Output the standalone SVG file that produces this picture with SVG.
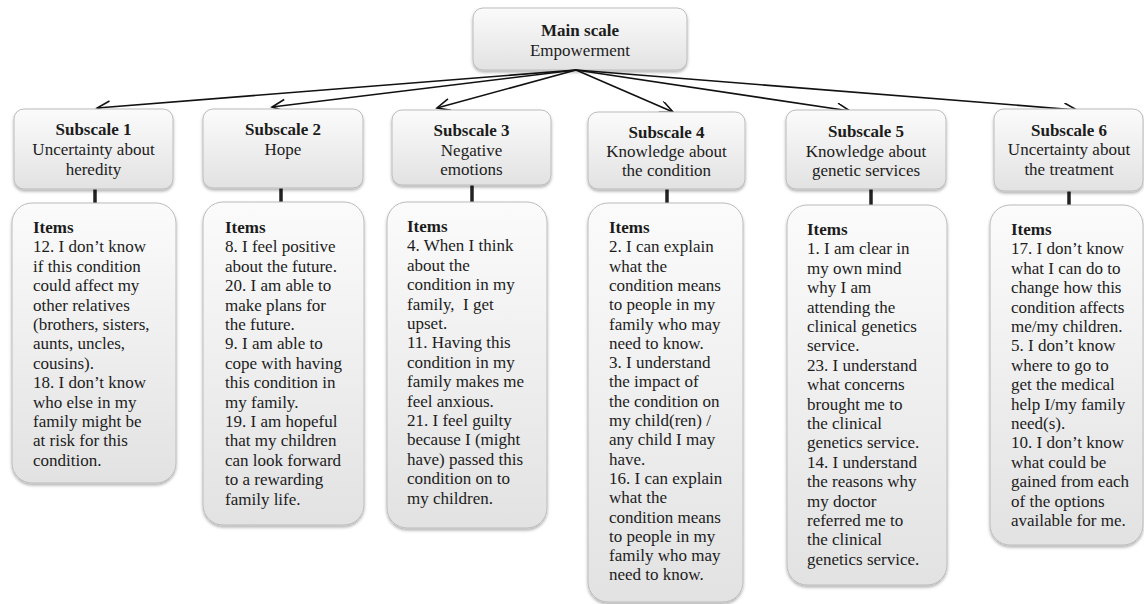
<svg xmlns="http://www.w3.org/2000/svg" width="1144" height="604" viewBox="0 0 1144 604">
<style>
text{font-family:"Liberation Serif","Times New Roman",serif;font-size:17px;fill:#1c1c1c}
.t{text-anchor:middle}
.b{font-weight:bold}
.box{fill:url(#g);stroke:#bcbcbc;stroke-width:1;filter:url(#sh)}
.stub{stroke:#222;stroke-width:3.5}
.arr{stroke:#111;stroke-width:1.6;fill:none;marker-end:url(#ah)}
</style>
<defs>
<linearGradient id="g" x1="0" y1="0" x2="0" y2="1">
<stop offset="0" stop-color="#fbfbfb"/>
<stop offset="1" stop-color="#e2e2e2"/>
</linearGradient>
<filter id="sh" x="-10%" y="-10%" width="120%" height="120%">
<feDropShadow dx="0" dy="2" stdDeviation="1.5" flood-color="#000" flood-opacity="0.3"/>
</filter>
<marker id="ah" markerUnits="userSpaceOnUse" markerWidth="16" markerHeight="16" refX="14" refY="6" orient="auto">
<path d="M1,0 L14,6 L1,12" fill="none" stroke="#111" stroke-width="1.6"/>
</marker>
</defs>

<g id="main">
<rect class="box" x="473" y="8" width="214" height="62" rx="10"/>
<text class="t b" x="580" y="36">Main scale</text>
<text class="t" x="580" y="56">Empowerment</text>
</g>

<g id="connectors">
<line class="arr" x1="576" y1="70" x2="97" y2="108"/>
<line class="arr" x1="576" y1="70" x2="272" y2="107"/>
<line class="arr" x1="576" y1="70" x2="437" y2="108"/>
<line class="arr" x1="576" y1="70" x2="673" y2="112"/>
<line class="arr" x1="576" y1="70" x2="850" y2="111"/>
<line class="arr" x1="576" y1="70" x2="1077" y2="110"/>
<line class="stub" x1="95" y1="189" x2="95" y2="203"/>
<line class="stub" x1="281" y1="188" x2="281" y2="202"/>
<line class="stub" x1="472" y1="185" x2="472" y2="202"/>
<line class="stub" x1="667" y1="189" x2="667" y2="203"/>
<line class="stub" x1="871" y1="189" x2="871" y2="205"/>
<line class="stub" x1="1069" y1="191" x2="1069" y2="205"/>
</g>

<g id="subscale1">
<rect class="box" x="14" y="109" width="159" height="80" rx="10"/>
<text class="t b" x="93.5" y="135">Subscale 1</text>
<text class="t" x="93.5" y="155">Uncertainty about</text>
<text class="t" x="93.5" y="175">heredity</text>
</g>
<g id="subscale2">
<rect class="box" x="203" y="109" width="160" height="79" rx="10"/>
<text class="t b" x="283" y="135">Subscale 2</text>
<text class="t" x="283" y="155">Hope</text>
</g>
<g id="subscale3">
<rect class="box" x="392" y="110" width="159" height="75" rx="10"/>
<text class="t b" x="471.5" y="136">Subscale 3</text>
<text class="t" x="471.5" y="156">Negative</text>
<text class="t" x="471.5" y="175">emotions</text>
</g>
<g id="subscale4">
<rect class="box" x="588" y="112" width="157" height="77" rx="10"/>
<text class="t b" x="666.5" y="138">Subscale 4</text>
<text class="t" x="666.5" y="157">Knowledge about</text>
<text class="t" x="666.5" y="176">the condition</text>
</g>
<g id="subscale5">
<rect class="box" x="786" y="110" width="160" height="79" rx="10"/>
<text class="t b" x="866" y="137">Subscale 5</text>
<text class="t" x="866" y="157">Knowledge about</text>
<text class="t" x="866" y="176">genetic services</text>
</g>
<g id="subscale6">
<rect class="box" x="994" y="109" width="149" height="82" rx="10"/>
<text class="t b" x="1069" y="136">Subscale 6</text>
<text class="t" x="1069" y="155">Uncertainty about</text>
<text class="t" x="1069" y="175">the treatment</text>
</g>

<g id="items1">
<rect class="box" x="12" y="203" width="164" height="280" rx="20"/>
<text x="33" y="233"><tspan class="b">Items</tspan>
<tspan x="33" dy="19.4">12. I don’t know</tspan>
<tspan x="33" dy="19.4">if this condition</tspan>
<tspan x="33" dy="19.4">could affect my</tspan>
<tspan x="33" dy="19.4">other relatives</tspan>
<tspan x="33" dy="19.4">(brothers, sisters,</tspan>
<tspan x="33" dy="19.4">aunts, uncles,</tspan>
<tspan x="33" dy="19.4">cousins).</tspan>
<tspan x="33" dy="19.4">18. I don’t know</tspan>
<tspan x="33" dy="19.4">who else in my</tspan>
<tspan x="33" dy="19.4">family might be</tspan>
<tspan x="33" dy="19.4">at risk for this</tspan>
<tspan x="33" dy="19.4">condition.</tspan></text>
</g>
<g id="items2">
<rect class="box" x="203" y="202" width="161" height="323" rx="20"/>
<text x="225" y="233"><tspan class="b">Items</tspan>
<tspan x="225" dy="19.4">8. I feel positive</tspan>
<tspan x="225" dy="19.4">about the future.</tspan>
<tspan x="225" dy="19.4">20. I am able to</tspan>
<tspan x="225" dy="19.4">make plans for</tspan>
<tspan x="225" dy="19.4">the future.</tspan>
<tspan x="225" dy="19.4">9. I am able to</tspan>
<tspan x="225" dy="19.4">cope with having</tspan>
<tspan x="225" dy="19.4">this condition in</tspan>
<tspan x="225" dy="19.4">my family.</tspan>
<tspan x="225" dy="19.4">19. I am hopeful</tspan>
<tspan x="225" dy="19.4">that my children</tspan>
<tspan x="225" dy="19.4">can look forward</tspan>
<tspan x="225" dy="19.4">to a rewarding</tspan>
<tspan x="225" dy="19.4">family life.</tspan></text>
</g>
<g id="items3">
<rect class="box" x="387" y="202" width="160" height="326" rx="20"/>
<text x="407" y="232"><tspan class="b">Items</tspan>
<tspan x="407" dy="19.4">4. When I think</tspan>
<tspan x="407" dy="19.4">about the</tspan>
<tspan x="407" dy="19.4">condition in my</tspan>
<tspan x="407" dy="19.4" xml:space="preserve">family,  I get</tspan>
<tspan x="407" dy="19.4">upset.</tspan>
<tspan x="407" dy="19.4">11. Having this</tspan>
<tspan x="407" dy="19.4">condition in my</tspan>
<tspan x="407" dy="19.4">family makes me</tspan>
<tspan x="407" dy="19.4">feel anxious.</tspan>
<tspan x="407" dy="19.4">21. I feel guilty</tspan>
<tspan x="407" dy="19.4">because I (might</tspan>
<tspan x="407" dy="19.4">have) passed this</tspan>
<tspan x="407" dy="19.4">condition on to</tspan>
<tspan x="407" dy="19.4">my children.</tspan></text>
</g>
<g id="items4">
<rect class="box" x="588" y="203" width="155" height="399" rx="20"/>
<text x="609" y="233"><tspan class="b">Items</tspan>
<tspan x="609" dy="19.3">2. I can explain</tspan>
<tspan x="609" dy="19.3">what the</tspan>
<tspan x="609" dy="19.3">condition means</tspan>
<tspan x="609" dy="19.3">to people in my</tspan>
<tspan x="609" dy="19.3">family who may</tspan>
<tspan x="609" dy="19.3">need to know.</tspan>
<tspan x="609" dy="19.3">3. I understand</tspan>
<tspan x="609" dy="19.3">the impact of</tspan>
<tspan x="609" dy="19.3">the condition on</tspan>
<tspan x="609" dy="19.3">my child(ren) /</tspan>
<tspan x="609" dy="19.3">any child I may</tspan>
<tspan x="609" dy="19.3">have.</tspan>
<tspan x="609" dy="19.3">16. I can explain</tspan>
<tspan x="609" dy="19.3">what the</tspan>
<tspan x="609" dy="19.3">condition means</tspan>
<tspan x="609" dy="19.3">to people in my</tspan>
<tspan x="609" dy="19.3">family who may</tspan>
<tspan x="609" dy="19.3">need to know.</tspan></text>
</g>
<g id="items5">
<rect class="box" x="787" y="205" width="160" height="380" rx="20"/>
<text x="807" y="235"><tspan class="b">Items</tspan>
<tspan x="807" dy="19.4">1. I am clear in</tspan>
<tspan x="807" dy="19.4">my own mind</tspan>
<tspan x="807" dy="19.4">why I am</tspan>
<tspan x="807" dy="19.4">attending the</tspan>
<tspan x="807" dy="19.4">clinical genetics</tspan>
<tspan x="807" dy="19.4">service.</tspan>
<tspan x="807" dy="19.4">23. I understand</tspan>
<tspan x="807" dy="19.4">what concerns</tspan>
<tspan x="807" dy="19.4">brought me to</tspan>
<tspan x="807" dy="19.4">the clinical</tspan>
<tspan x="807" dy="19.4">genetics service.</tspan>
<tspan x="807" dy="19.4">14. I understand</tspan>
<tspan x="807" dy="19.4">the reasons why</tspan>
<tspan x="807" dy="19.4">my doctor</tspan>
<tspan x="807" dy="19.4">referred me to</tspan>
<tspan x="807" dy="19.4">the clinical</tspan>
<tspan x="807" dy="19.4">genetics service.</tspan></text>
</g>
<g id="items6">
<rect class="box" x="990" y="205" width="153" height="340" rx="20"/>
<text x="1011" y="235"><tspan class="b">Items</tspan>
<tspan x="1011" dy="19.4">17. I don’t know</tspan>
<tspan x="1011" dy="19.4">what I can do to</tspan>
<tspan x="1011" dy="19.4">change how this</tspan>
<tspan x="1011" dy="19.4">condition affects</tspan>
<tspan x="1011" dy="19.4">me/my children.</tspan>
<tspan x="1011" dy="19.4">5. I don’t know</tspan>
<tspan x="1011" dy="19.4">where to go to</tspan>
<tspan x="1011" dy="19.4">get the medical</tspan>
<tspan x="1011" dy="19.4">help I/my family</tspan>
<tspan x="1011" dy="19.4">need(s).</tspan>
<tspan x="1011" dy="19.4">10. I don’t know</tspan>
<tspan x="1011" dy="19.4">what could be</tspan>
<tspan x="1011" dy="19.4">gained from each</tspan>
<tspan x="1011" dy="19.4">of the options</tspan>
<tspan x="1011" dy="19.4">available for me.</tspan></text>
</g>
</svg>
